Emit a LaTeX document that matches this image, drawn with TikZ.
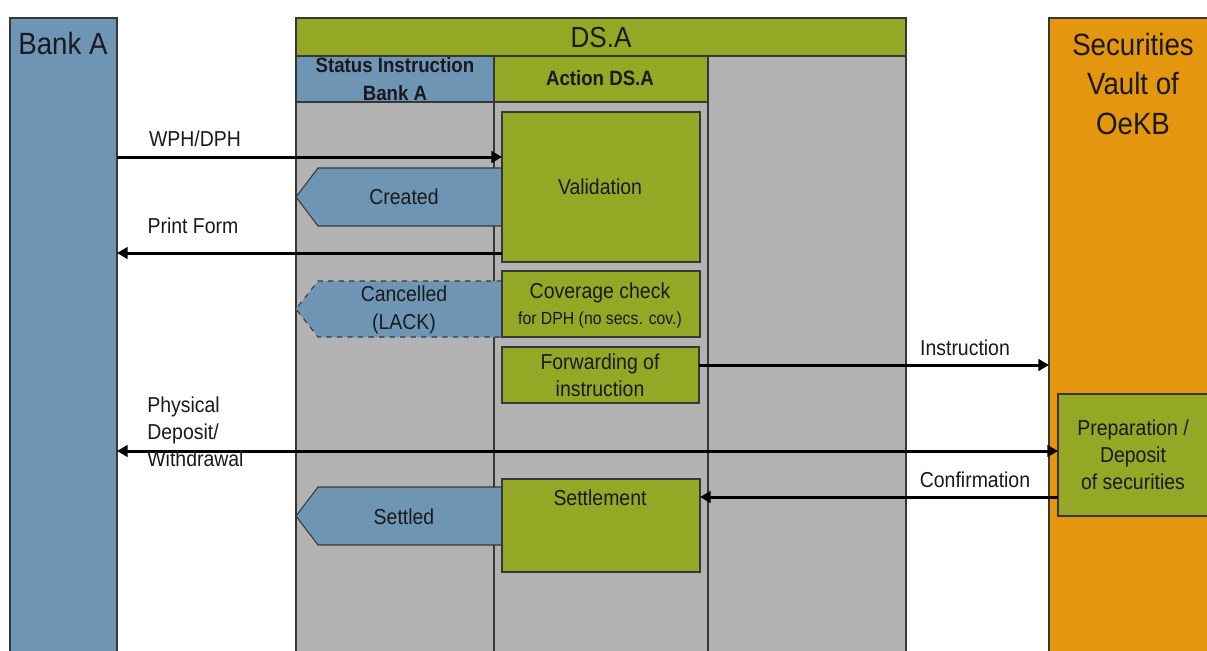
\documentclass[tikz,border=0pt]{standalone}
\usepackage{fontspec}
\setmainfont{Liberation Sans}[FakeStretch=0.9]
\usetikzlibrary{arrows.meta,calc}
\definecolor{bankblue}{RGB}{110,150,180}
\definecolor{olivec}{RGB}{148,168,38}
\definecolor{greyc}{RGB}{178,178,178}
\definecolor{vaultc}{RGB}{227,150,14}
\definecolor{edgec}{RGB}{55,55,55}
\definecolor{inkc}{RGB}{25,25,30}
\newcommand\bx[7]{\node[#6, minimum width={(#4-#2)*0.02cm}, minimum height={(#5-#3)*0.02cm}, inner sep=0pt, outer sep=0pt] (#1) at ({(#2+#4)/2},{(#3+#5)/2}) {#7};}
\tikzset{
  frame/.style={draw=edgec, line width=0.6pt},
  bluebox/.style={frame, fill=bankblue},
  olivebox/.style={frame, fill=olivec},
  greybox/.style={frame, fill=greyc},
  vaultbox/.style={frame, fill=vaultc},
  txt/.style={text=inkc, font=\fontsize{12.3}{15.5}\selectfont, align=center, inner sep=0pt},
  bigtxt/.style={text=inkc, font=\fontsize{17.5}{22.7}\selectfont, align=center, inner sep=0pt},
  hdtxt/.style={text=inkc, font=\fontsize{11.8}{16.3}\selectfont\bfseries, align=center, inner sep=0pt},
  arr/.style={line width=1.7pt, draw=black, -{Triangle[length=6pt,width=6.5pt]}},
  darr/.style={line width=1.7pt, draw=black, {Triangle[length=6pt,width=6.5pt]}-{Triangle[length=6pt,width=6.5pt]}},
  statusshape/.style={draw=edgec, line width=0.6pt, fill=bankblue}
}
\begin{document}
\begin{tikzpicture}[x=0.02cm,y=-0.02cm]
\useasboundingbox (0,0) rectangle (1207,650);
\fill[white] (0,0) rectangle (1207,650);
\clip (0,0) rectangle (1207,650);
% columns
\bx{bank}{10}{18}{117}{670}{bluebox}{}
\node[bigtxt] (banktxt) at (63,44) {Bank A};
\bx{vault}{1049}{18}{1230}{670}{vaultbox}{}
\node[bigtxt] (vaulttxt) at (1133,84) {Securities\\Vault of\\OeKB};
\bx{dsa}{296}{56}{906}{670}{greybox}{}
\bx{dsahead}{296}{18}{906}{56}{olivebox}{}
\node[text=inkc, font=\fontsize{16.5}{20}\selectfont, inner sep=0pt] (dsatxt) at (601,38) {DS.A};
\bx{sthead}{296}{56}{494}{102}{bluebox}{}
\node[hdtxt] (sttxt) at (395,79) {Status Instruction\\Bank A};
\bx{achead}{494}{56}{708}{102}{olivebox}{}
\node[hdtxt] (actxt) at (600,78) {Action DS.A};
\draw[frame] (sthead.south east) -- (sthead.south east |- dsa.south);
\draw[frame] (achead.north east) -- (achead.north east |- dsa.south);
% status shapes
\draw[statusshape] (502,168) -- (318,168) -- (296,197) -- (318,226) -- (502,226);
\node[txt] (created) at (404,197) {Created};
\draw[statusshape, dashed] (502,281) -- (318,281) -- (296,309) -- (318,337) -- (502,337) -- cycle;
\node[txt] (cancelled) at (404,310) {Cancelled\\(LACK)};
\draw[statusshape] (502,487) -- (318,487) -- (296,516) -- (318,545) -- (502,545);
\node[txt] (settled) at (404,517) {Settled};
% action boxes
\bx{valid}{502}{112}{700}{262}{olivebox}{}
\node[txt] (validtxt) at (600,187) {Validation};
\bx{cover}{502}{271}{700}{337}{olivebox}{}
\node[txt] (covertxt) at (600,293) {Coverage check};
\node[txt, font=\fontsize{10}{12}\selectfont] (covertxt2) at (600,320) {for DPH (no secs. cov.)};
\bx{fwd}{502}{347}{699}{403}{olivebox}{}
\node[txt] (fwdtxt) at (600,375) {Forwarding of\\instruction};
\bx{settle}{502}{479}{700}{572}{olivebox}{}
\node[txt] (settletxt) at (600,498) {Settlement};
\bx{prep}{1058}{394}{1230}{516}{olivebox}{}
\node[txt] (preptxt) at (1133,455) {Preparation /\\Deposit\\of securities};
% connectors
\draw[arr] (bank.east |- 0,157) -- (valid.west |- 0,157);
\node[txt] (wph) at (195,139) {WPH/DPH};
\draw[arr] (valid.west |- 0,253) -- (bank.east |- 0,253);
\node[txt] (print) at (193,226) {Print Form};
\draw[darr] (bank.east |- 0,451) -- (prep.west |- 0,451);
\node[txt, align=left, anchor=west] (phys) at (147,432) {Physical\\Deposit/\\Withdrawal};
\draw[arr] (fwd.east |- 0,365) -- (vault.west |- 0,365);
\node[txt] (instr) at (965,348) {Instruction};
\draw[arr] (prep.west |- 0,497) -- (settle.east |- 0,497);
\node[txt] (confirm) at (975,480) {Confirmation};
\end{tikzpicture}
\end{document}
